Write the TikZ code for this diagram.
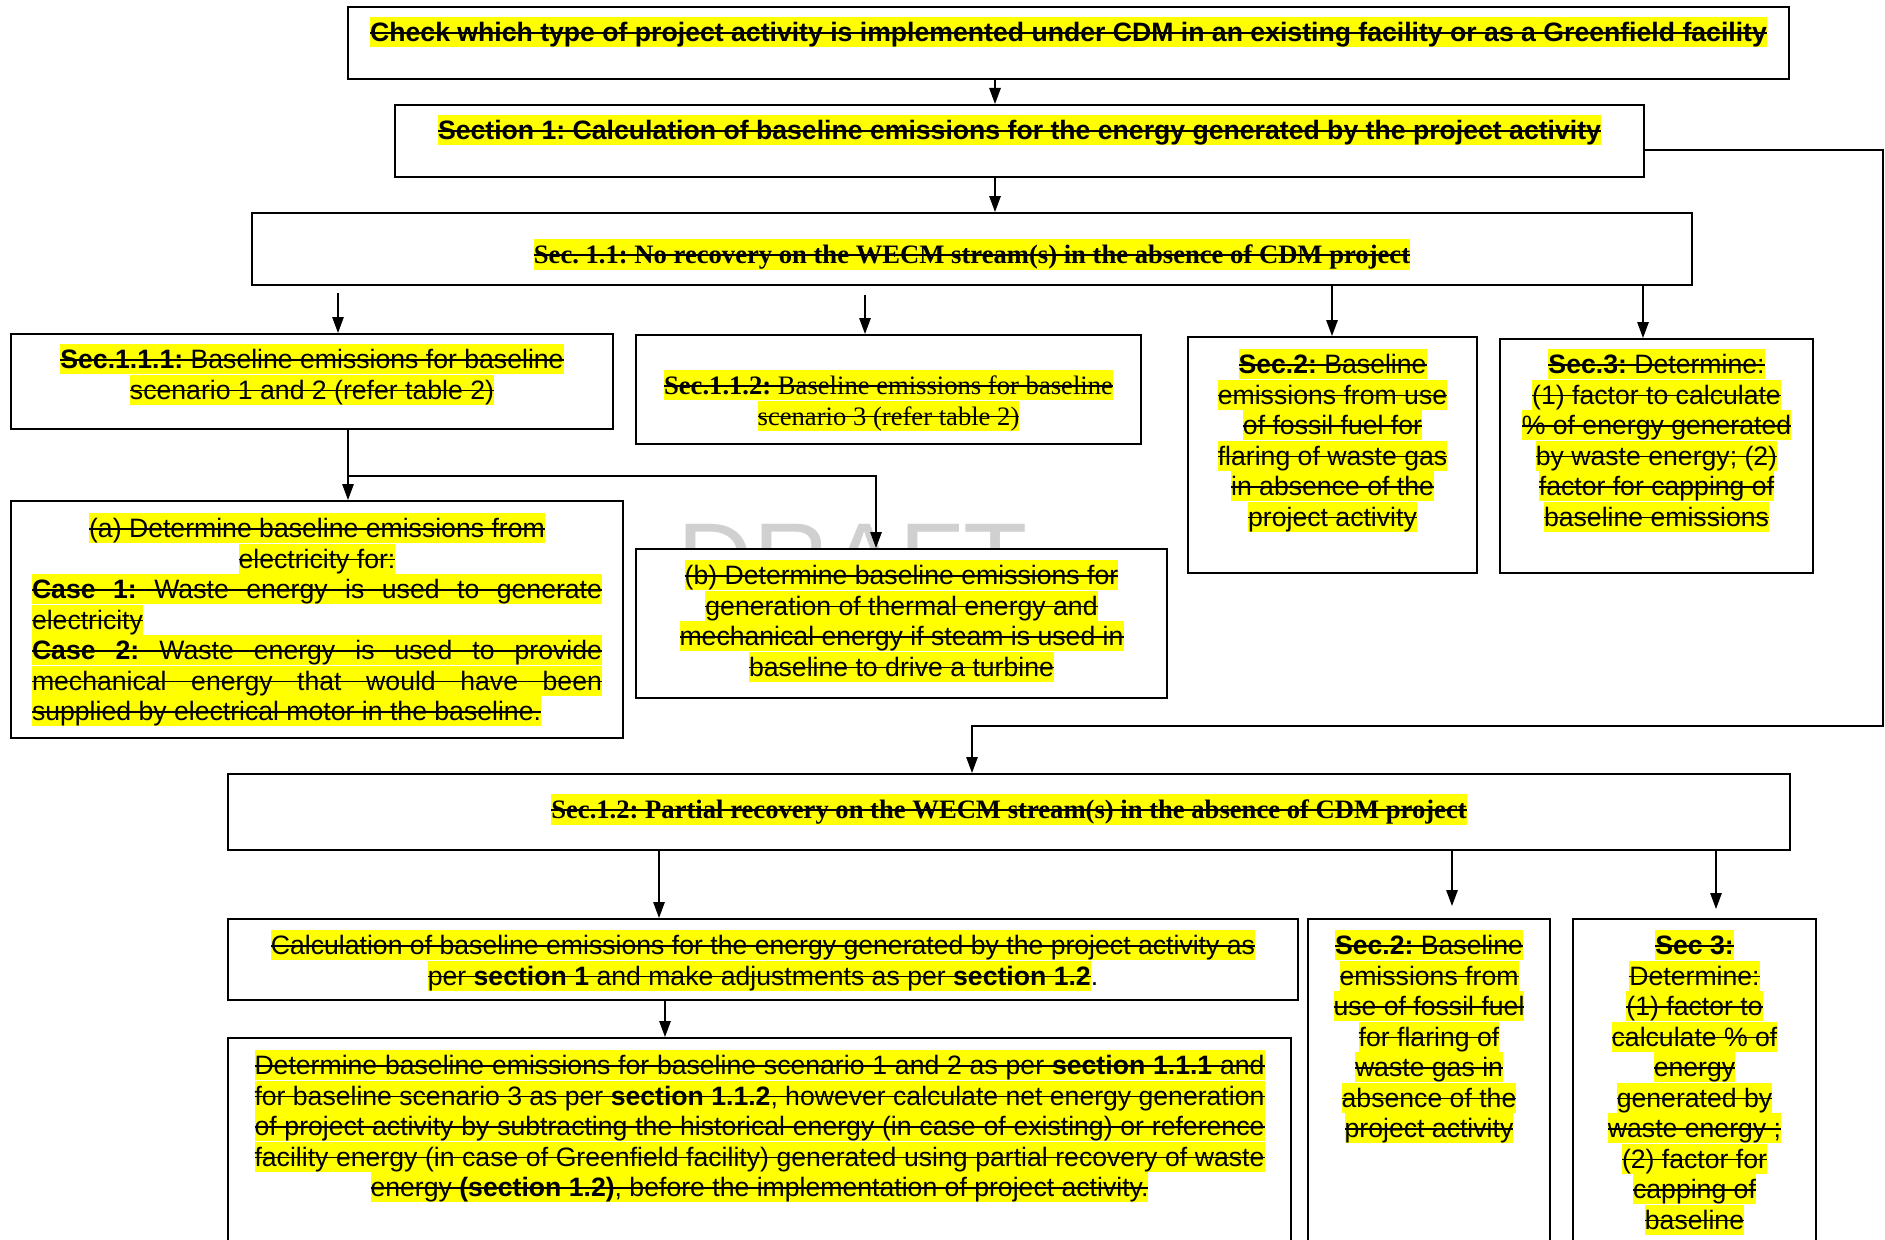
\documentclass[tikz,border=0pt]{standalone}
\usepackage{fontspec}
\setmainfont{Liberation Sans}
\newfontfamily\timesfont{Liberation Serif}
\usetikzlibrary{arrows.meta}
\frenchspacing

\definecolor{hlyellow}{RGB}{255,255,0}
\definecolor{draftgray}{RGB}{208,208,208}

% sizes are given in pixels of the sketch
\newcommand\px[1]{\dimexpr#1pt*2/5\relax}
\newsavebox\hlbox
\newcommand\hlstrut{\rule[-0.21em]{0pt}{1.14em}}
\newcommand\hs[1]{\sbox\hlbox{\hlstrut#1}{\fboxsep=0pt\colorbox{hlyellow}{\rlap{\rule[0.3em]{\wd\hlbox}{0.7pt}}\usebox\hlbox}}}
\newcommand\boxtxt[4]{\parbox[c][\px{#2}][t]{\px{#1}}{\centering\vspace*{\px{#3}}#4\par}}

\begin{document}
\begin{tikzpicture}[x=0.4pt, y=-0.4pt,
	box/.style={draw, fill=white, line width=0.8pt, inner sep=0pt, anchor=north west,
		font=\fontsize{10.65}{12.2}\selectfont},
	arr/.style={line width=0.5pt, -{Triangle[length=6.4pt, width=4.6pt]}}]
	%\draw[help lines, step=100] (0,0) grid (1885,1239);
	\useasboundingbox (0,0) rectangle (1885,1239);
	\clip (0,0) rectangle (1885,1239);

	\path
	coordinate (topnw) at (347,6)
	coordinate (sec1nw) at (394,104)
	coordinate (s11nw) at (251,212)
	coordinate (s111nw) at (10,333)
	coordinate (s112nw) at (635,334)
	coordinate (s2nw) at (1187,336)
	coordinate (s3nw) at (1499,338)
	coordinate (anw) at (10,500)
	coordinate (bnw) at (635,548)
	coordinate (s12nw) at (227,773)
	coordinate (calcnw) at (227,918)
	coordinate (detnw) at (227,1037)
	coordinate (s2bnw) at (1307,918)
	coordinate (s3bnw) at (1572,918)
	% arrow columns
	coordinate (colTop) at (995,0)
	coordinate (st111) at (338,293)
	coordinate (st112) at (865,295)
	coordinate (colS2) at (1332,0)
	coordinate (colS3) at (1643,0)
	coordinate (lpA) at (1883,150)
	coordinate (lpB) at (1883,726)
	coordinate (lpC) at (972,726)
	coordinate (colA) at (348,0)
	coordinate (split) at (876,476)
	coordinate (colCalc) at (659,0)
	coordinate (endS2b) at (1452,906)
	coordinate (endS3b) at (1716,909)
	coordinate (colDet) at (665,0)
	;

	% watermark, mostly hidden behind box (b)
	\begin{scope}
		\clip (600,500) rectangle (1200,548);
		\node[text=draftgray, font=\fontsize{42}{42}\selectfont, anchor=base west, inner sep=0pt]
			(wm) at (677,596) {DRAFT};
	\end{scope}

	\node[box] (top) at (topnw) {\boxtxt{1441}{72}{10}{%
		\hs{\textbf{Check which type of project activity is implemented under CDM in an existing facility or as a Greenfield facility}}}};
	\node[box] (sec1) at (sec1nw) {\boxtxt{1249}{72}{10}{%
		\hs{\textbf{Section 1: Calculation of baseline emissions for the energy generated by the project activity}}}};
	\node[box] (s11) at (s11nw) {\boxtxt{1440}{72}{26}{\timesfont
		\hs{\textbf{Sec. 1.1: No recovery on the WECM stream(s) in the absence of CDM project}}}};

	\node[box] (s111) at (s111nw) {\boxtxt{602}{95}{10}{%
		\hs{\textbf{Sec.1.1.1:} Baseline emissions for baseline}\\
		\hs{scenario 1 and 2 (refer table 2)}}};
	\node[box] (s112) at (s112nw) {\boxtxt{505}{109}{35}{\timesfont
		\hs{\textbf{Sec.1.1.2:} Baseline emissions for baseline}\\
		\hs{scenario 3 (refer table 2)}}};
	\node[box] (s2) at (s2nw) {\boxtxt{289}{236}{12}{%
		\hs{\textbf{Sec.2:} Baseline}\\
		\hs{emissions from use}\\
		\hs{of fossil fuel for}\\
		\hs{flaring of waste gas}\\
		\hs{in absence of the}\\
		\hs{project activity}}};
	\node[box] (s3) at (s3nw) {\boxtxt{313}{234}{10}{%
		\hs{\textbf{Sec.3:} Determine:}\\
		\hs{(1) factor to calculate}\\
		\hs{\% of energy generated}\\
		\hs{by waste energy; (2)}\\
		\hs{factor for capping of}\\
		\hs{baseline emissions}}};

	\node[box] (a) at (anw) {\boxtxt{612}{237}{12}{%
		\hs{(a) Determine baseline emissions from}\\
		\hs{electricity for:}\\
		\hs{\makebox[\px{570}][s]{\textbf{Case 1:} Waste energy is used to generate}}\\
		\makebox[\px{570}][l]{\hs{electricity}}\\
		\hs{\makebox[\px{570}][s]{\textbf{Case 2:} Waste energy is used to provide}}\\
		\hs{\makebox[\px{570}][s]{mechanical energy that would have been}}\\
		\makebox[\px{570}][l]{\hs{supplied by electrical motor in the baseline.}}}};
	\node[box] (b) at (bnw) {\boxtxt{531}{149}{11}{%
		\hs{(b) Determine baseline emissions for}\\
		\hs{generation of thermal energy and}\\
		\hs{mechanical energy if steam is used in}\\
		\hs{baseline to drive a turbine}}};

	\node[box] (s12) at (s12nw) {\boxtxt{1562}{76}{20}{\timesfont
		\hs{\textbf{Sec.1.2: Partial recovery on the WECM stream(s) in the absence of CDM project}}}};

	\node[box] (calc) at (calcnw) {\boxtxt{1070}{81}{11}{%
		\hs{Calculation of baseline emissions for the energy generated by the project activity as}\\
		\hs{per \textbf{section 1} and make adjustments as per \textbf{section 1.2}}.}};
	\node[box] (det) at (detnw) {\boxtxt{1063}{300}{12}{%
		\hs{\makebox[\px{1010}][s]{Determine baseline emissions for baseline scenario 1 and 2 as per \textbf{section 1.1.1} and}}\\
		\hs{\makebox[\px{1010}][s]{for baseline scenario 3 as per \textbf{section 1.1.2}, however calculate net energy generation}}\\
		\hs{\makebox[\px{1010}][s]{of project activity by subtracting the historical energy (in case of existing) or reference}}\\
		\hs{\makebox[\px{1010}][s]{facility energy (in case of Greenfield facility) generated using partial recovery of waste}}\\
		\hs{energy \textbf{(section 1.2)}, before the implementation of project activity.}}};
	\node[box] (s2b) at (s2bnw) {\boxtxt{242}{380}{11}{%
		\hs{\textbf{Sec.2:} Baseline}\\
		\hs{emissions from}\\
		\hs{use of fossil fuel}\\
		\hs{for flaring of}\\
		\hs{waste gas in}\\
		\hs{absence of the}\\
		\hs{project activity}}};
	\node[box] (s3b) at (s3bnw) {\boxtxt{243}{380}{11}{%
		\hs{\textbf{Sec 3:}}\\
		\hs{Determine:}\\
		\hs{(1) factor to}\\
		\hs{calculate \% of}\\
		\hs{energy}\\
		\hs{generated by}\\
		\hs{waste energy ;}\\
		\hs{(2) factor for}\\
		\hs{capping of}\\
		\hs{baseline}}};

	% connectors
	\draw[arr] (top.south -| colTop) -- (sec1.north -| colTop);
	\draw[arr] (sec1.south -| colTop) -- (s11.north -| colTop);
	\draw[arr] (st111) -- (s111.north -| st111);
	\draw[arr] (st112) -- (s112.north -| st112);
	\draw[arr] (s11.south -| colS2) -- (s2.north -| colS2);
	\draw[arr] (s11.south -| colS3) -- (s3.north -| colS3);
	\draw[arr] (sec1.east |- lpA) -- (lpA) -- (lpB) -- (lpC) -- (s12.north -| lpC);
	\draw[arr] (s111.south -| colA) -- (a.north -| colA);
	\draw[arr] (colA |- split) -- (split) -- (b.north -| split);
	\draw[arr] (s12.south -| colCalc) -- (calc.north -| colCalc);
	\draw[arr] (s12.south -| endS2b) -- (endS2b);
	\draw[arr] (s12.south -| endS3b) -- (endS3b);
	\draw[arr] (calc.south -| colDet) -- (det.north -| colDet);

\end{tikzpicture}
\end{document}
